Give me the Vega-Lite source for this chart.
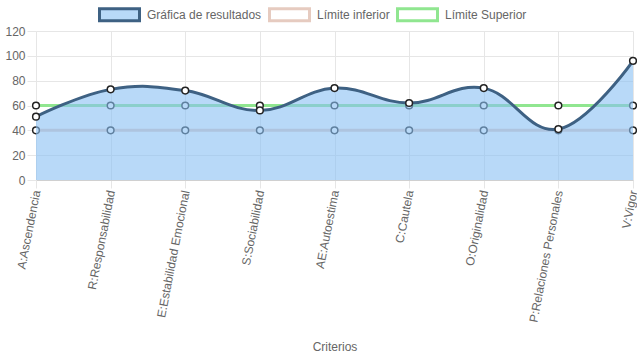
{
  "$schema": "https://vega.github.io/schema/vega-lite/v6.json",
  "width": 597,
  "height": 149,
  "autosize": {"type": "none"},
  "padding": {"left": 36, "top": 31, "right": 4, "bottom": 179},
  "config": {
    "font": "Liberation Sans",
    "view": {"stroke": null},
    "axis": {"labelColor": "#666666", "labelFontSize": 12, "titleColor": "#666666", "titleFontSize": 12, "titleFontWeight": "normal", "gridColor": "#e6e6e6", "tickColor": "#e6e6e6", "domainColor": "#d0d0d0"}
  },
  "data": {
    "values": [
      {"criterio": "A:Ascendencia", "serie": "Gráfica de resultados", "valor": 51},
      {"criterio": "R:Responsabilidad", "serie": "Gráfica de resultados", "valor": 73},
      {"criterio": "E:Estabilidad Emocional", "serie": "Gráfica de resultados", "valor": 72},
      {"criterio": "S:Sociabilidad", "serie": "Gráfica de resultados", "valor": 56},
      {"criterio": "AE:Autoestima", "serie": "Gráfica de resultados", "valor": 74},
      {"criterio": "C:Cautela", "serie": "Gráfica de resultados", "valor": 62},
      {"criterio": "O:Originalidad", "serie": "Gráfica de resultados", "valor": 74},
      {"criterio": "P:Relaciones Personales", "serie": "Gráfica de resultados", "valor": 41},
      {"criterio": "V:Vigor", "serie": "Gráfica de resultados", "valor": 96},
      {"criterio": "A:Ascendencia", "serie": "Límite inferior", "valor": 40},
      {"criterio": "R:Responsabilidad", "serie": "Límite inferior", "valor": 40},
      {"criterio": "E:Estabilidad Emocional", "serie": "Límite inferior", "valor": 40},
      {"criterio": "S:Sociabilidad", "serie": "Límite inferior", "valor": 40},
      {"criterio": "AE:Autoestima", "serie": "Límite inferior", "valor": 40},
      {"criterio": "C:Cautela", "serie": "Límite inferior", "valor": 40},
      {"criterio": "O:Originalidad", "serie": "Límite inferior", "valor": 40},
      {"criterio": "P:Relaciones Personales", "serie": "Límite inferior", "valor": 40},
      {"criterio": "V:Vigor", "serie": "Límite inferior", "valor": 40},
      {"criterio": "A:Ascendencia", "serie": "Límite Superior", "valor": 60},
      {"criterio": "R:Responsabilidad", "serie": "Límite Superior", "valor": 60},
      {"criterio": "E:Estabilidad Emocional", "serie": "Límite Superior", "valor": 60},
      {"criterio": "S:Sociabilidad", "serie": "Límite Superior", "valor": 60},
      {"criterio": "AE:Autoestima", "serie": "Límite Superior", "valor": 60},
      {"criterio": "C:Cautela", "serie": "Límite Superior", "valor": 60},
      {"criterio": "O:Originalidad", "serie": "Límite Superior", "valor": 60},
      {"criterio": "P:Relaciones Personales", "serie": "Límite Superior", "valor": 60},
      {"criterio": "V:Vigor", "serie": "Límite Superior", "valor": 60}
    ]
  },
  "encoding": {
    "x": {
      "field": "criterio", "type": "nominal", "sort": null,
      "scale": {"type": "point", "padding": 0},
      "axis": {"title": "Criterios", "labelAngle": -79, "tickSize": 8, "labelPadding": 2, "titleY": 166, "titleBaseline": "middle", "grid": true}
    },
    "y": {
      "field": "valor", "type": "quantitative",
      "scale": {"domain": [0, 120], "nice": false},
      "axis": {"title": null, "values": [0, 20, 40, 60, 80, 100, 120], "tickSize": 9, "labelPadding": 2, "domainColor": "#e6e6e6"}
    }
  },
  "layer": [
    {
      "transform": [{"filter": "datum.serie !== 'Gráfica de resultados'"}],
      "mark": {"type": "line", "strokeWidth": 3},
      "encoding": {
        "detail": {"field": "serie"},
        "stroke": {
          "field": "serie", "type": "nominal",
          "scale": {"domain": ["Gráfica de resultados", "Límite inferior", "Límite Superior"], "range": ["#3e6183", "#e6cbc0", "#90e690"]},
          "legend": {"title": null, "orient": "none", "direction": "horizontal", "legendX": 62, "legendY": -38, "symbolType": "M-1,-0.3H1V0.3H-1Z", "symbolSize": 1600, "symbolStrokeWidth": 3, "labelFontSize": 12, "labelColor": "#666666", "labelOffset": 6, "columnPadding": 1}
        }
      }
    },
    {
      "transform": [{"filter": "datum.serie !== 'Gráfica de resultados'"}],
      "mark": {"type": "point", "filled": true, "fill": "#ffffff", "stroke": "#222222", "strokeWidth": 1.5, "size": 45, "opacity": 1},
      "encoding": {"detail": {"field": "serie"}}
    },
    {
      "transform": [{"filter": "datum.serie === 'Gráfica de resultados'"}],
      "mark": {"type": "area", "interpolate": "cardinal", "tension": -0.2},
      "encoding": {
        "fill": {
          "field": "serie", "type": "nominal",
          "scale": {"domain": ["Gráfica de resultados", "Límite inferior", "Límite Superior"], "range": ["rgba(137,192,243,0.6)", "#ffffff", "#ffffff"]},
          "legend": {"title": null, "orient": "none", "direction": "horizontal", "legendX": 62, "legendY": -38, "symbolType": "M-1,-0.3H1V0.3H-1Z", "symbolSize": 1600, "symbolStrokeWidth": 3, "labelFontSize": 12, "labelColor": "#666666", "labelOffset": 6, "columnPadding": 1}
        }
      }
    },
    {
      "transform": [{"filter": "datum.serie === 'Gráfica de resultados'"}],
      "mark": {"type": "line", "interpolate": "cardinal", "tension": -0.2, "strokeWidth": 3},
      "encoding": {"stroke": {"field": "serie", "type": "nominal"}}
    },
    {
      "transform": [{"filter": "datum.serie === 'Gráfica de resultados'"}],
      "mark": {"type": "point", "filled": true, "fill": "#ffffff", "stroke": "#222222", "strokeWidth": 1.5, "size": 45, "opacity": 1},
      "encoding": {}
    }
  ]
}
